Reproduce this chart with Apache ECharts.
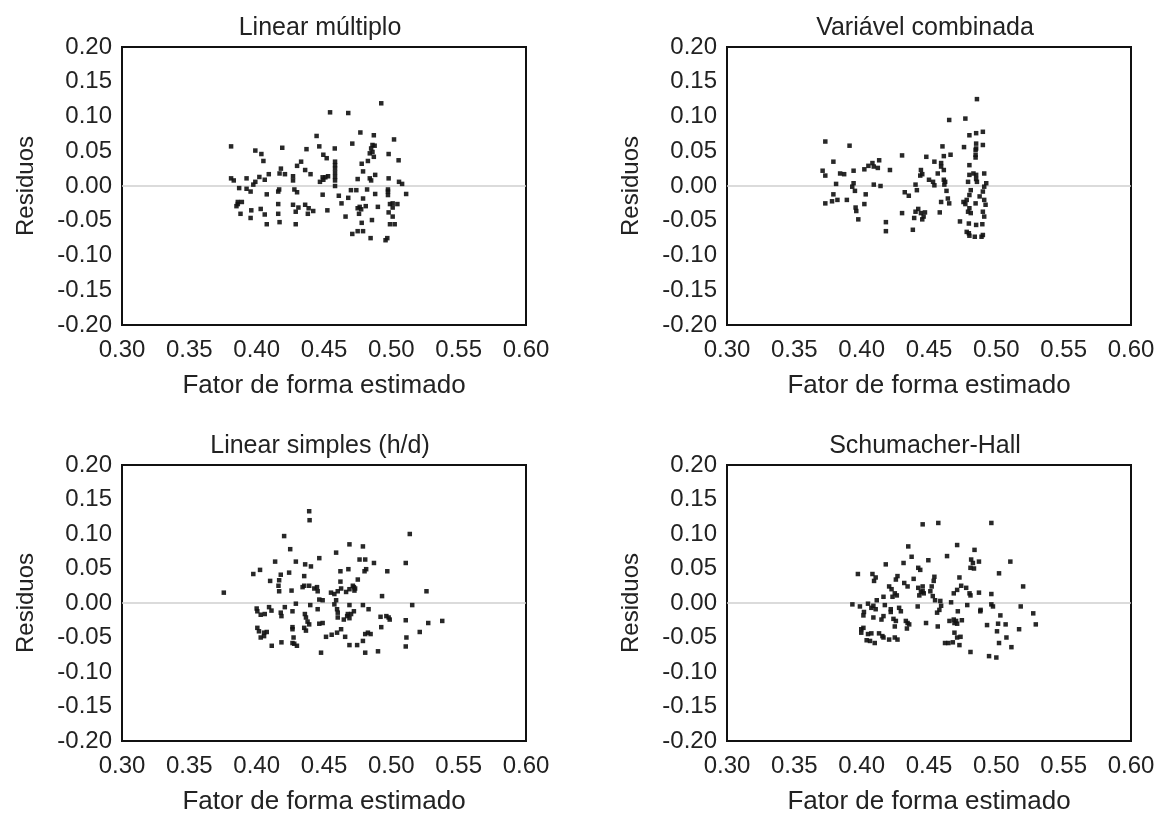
<!DOCTYPE html>
<html>
<head>
<meta charset="utf-8">
<script src="https://cdn.jsdelivr.net/npm/echarts@6/dist/echarts.min.js"></script>
<style>
  html, body { margin: 0; padding: 0; background: #fff; }
  #chart { width: 1165px; height: 816px; }
</style>
</head>
<body>
<div id="chart"></div>
<script>
// Residuals vs. estimated form factor for four models
const panelTitles = ['Linear múltiplo', 'Variável combinada', 'Linear simples (h/d)', 'Schumacher-Hall'];
const xName = 'Fator de forma estimado';
const yName = 'Residuos';
const xTicks = { min: 0.30, max: 0.60, step: 0.05 };
const yTicks = { min: -0.20, max: 0.20, step: 0.05 };

const linearMultiplo = [
  [0.381,0.057],[0.4545,0.106],[0.468,0.105],[0.477,0.077],[0.471,0.061],[0.4445,0.072],[0.399,0.051],
  [0.4035,0.046],[0.405,0.036],[0.419,0.055],[0.437,0.053],[0.4465,0.057],[0.4495,0.045],[0.452,0.040],
  [0.458,0.054],[0.4582,0.035],[0.4582,0.030],[0.4582,0.025],[0.4582,0.019],[0.4582,0.013],[0.4582,0.008],
  [0.4582,0.000],[0.430,0.029],[0.433,0.035],[0.436,0.023],[0.440,0.017],[0.418,0.025],[0.417,0.018],
  [0.421,0.017],[0.427,0.014],[0.427,0.008],[0.409,0.017],[0.406,0.009],[0.402,0.013],[0.399,0.006],
  [0.3975,0.002],[0.3925,0.011],[0.381,0.011],[0.383,0.008],[0.387,-0.003],[0.3925,-0.004],[0.3955,-0.008],
  [0.4167,-0.005],[0.416,-0.008],[0.428,-0.005],[0.430,-0.009],[0.4075,-0.012],[0.449,0.0125],[0.451,0.0125],
  [0.4495,0.009],[0.453,0.014],[0.447,0.006],[0.449,-0.0125],[0.386,-0.023],[0.389,-0.023],[0.385,-0.029],
  [0.386,-0.026],[0.388,-0.040],[0.396,-0.035],[0.3955,-0.046],[0.403,-0.033],[0.406,-0.041],[0.4075,-0.055],
  [0.416,-0.026],[0.416,-0.040],[0.417,-0.052],[0.427,-0.027],[0.429,-0.037],[0.431,-0.031],[0.429,-0.055],
  [0.436,-0.027],[0.4386,-0.032],[0.438,-0.040],[0.442,-0.036],[0.4525,-0.035],[0.461,-0.014],[0.463,-0.025],
  [0.468,-0.017],[0.470,-0.006],[0.474,-0.006],[0.466,-0.044],[0.471,-0.069],[0.475,-0.065],[0.479,-0.065],
  [0.478,0.032],[0.479,0.021],[0.475,0.010],[0.479,-0.018],[0.475,-0.032],[0.4765,-0.030],[0.4776,-0.0335],
  [0.476,-0.040],[0.478,-0.053],[0.4925,0.119],[0.487,0.073],[0.502,0.067],[0.486,0.059],[0.4876,0.058],
  [0.485,0.054],[0.486,0.049],[0.484,0.047],[0.487,0.042],[0.4826,0.036],[0.498,0.046],[0.5054,0.037],
  [0.488,0.016],[0.484,0.011],[0.485,0.008],[0.498,0.011],[0.5057,0.006],[0.508,0.003],[0.482,-0.005],
  [0.4975,-0.005],[0.4975,-0.008],[0.488,-0.0115],[0.4975,-0.013],[0.511,-0.0115],[0.481,-0.029],[0.490,-0.030],
  [0.499,-0.026],[0.501,-0.025],[0.5045,-0.026],[0.501,-0.031],[0.498,-0.038],[0.501,-0.044],[0.4856,-0.049],
  [0.499,-0.055],[0.5025,-0.055],[0.4846,-0.075],[0.4957,-0.078],[0.497,-0.075]
];

const variavelCombinada = [
  [0.373,0.064],[0.391,0.058],[0.379,0.035],[0.371,0.022],[0.373,0.015],[0.384,0.018],[0.387,0.017],
  [0.394,0.022],[0.402,0.024],[0.405,0.029],[0.408,0.033],[0.409,0.028],[0.413,0.037],[0.412,0.026],
  [0.421,0.023],[0.430,0.044],[0.448,0.042],[0.454,0.035],[0.444,0.023],[0.445,0.017],[0.4435,0.015],
  [0.450,0.009],[0.453,0.006],[0.454,0.001],[0.381,0.003],[0.394,0.004],[0.393,-0.001],[0.409,0.002],
  [0.414,0.000],[0.440,0.002],[0.441,-0.006],[0.379,-0.012],[0.373,-0.025],[0.378,-0.022],[0.382,-0.020],
  [0.389,-0.020],[0.395,-0.007],[0.403,-0.012],[0.402,-0.026],[0.3955,-0.031],[0.396,-0.036],[0.3975,-0.048],
  [0.418,-0.052],[0.418,-0.065],[0.432,-0.009],[0.435,-0.014],[0.430,-0.039],[0.442,-0.033],[0.440,-0.037],
  [0.439,-0.046],[0.444,-0.039],[0.446,-0.044],[0.447,-0.038],[0.445,-0.048],[0.438,-0.063],
  [0.4856,0.125],[0.465,0.095],[0.477,0.097],[0.480,0.073],[0.485,0.076],[0.490,0.078],[0.460,0.057],
  [0.461,0.043],[0.466,0.045],[0.476,0.056],[0.485,0.061],[0.485,0.054],[0.4846,0.052],[0.4846,0.045],
  [0.4846,0.041],[0.490,0.059],[0.480,0.030],[0.459,0.033],[0.459,0.028],[0.461,0.023],[0.4565,0.018],
  [0.461,0.009],[0.462,0.006],[0.4614,0.002],[0.483,0.018],[0.485,0.016],[0.485,0.010],[0.4856,0.006],
  [0.480,0.016],[0.479,0.006],[0.491,0.018],[0.4925,0.004],[0.491,-0.001],[0.490,-0.008],[0.4876,-0.015],
  [0.481,-0.006],[0.480,-0.013],[0.478,-0.020],[0.477,-0.026],[0.463,-0.007],[0.464,-0.018],[0.465,-0.025],
  [0.459,-0.023],[0.458,-0.038],[0.4756,-0.023],[0.4846,-0.025],[0.491,-0.020],[0.492,-0.027],[0.480,-0.032],
  [0.479,-0.037],[0.481,-0.039],[0.490,-0.037],[0.491,-0.044],[0.473,-0.051],[0.4796,-0.054],[0.485,-0.056],
  [0.4896,-0.055],[0.478,-0.066],[0.4796,-0.068],[0.484,-0.073],[0.489,-0.073],[0.490,-0.0705],[0.480,-0.0715]
];

const linearSimples = [
  [0.3756,0.015],[0.439,0.133],[0.4393,0.120],[0.4204,0.097],[0.4249,0.078],[0.4137,0.060],[0.4291,0.060],
  [0.436,0.056],[0.4403,0.053],[0.4465,0.065],[0.459,0.073],[0.4689,0.085],[0.4789,0.082],[0.4764,0.063],
  [0.4806,0.063],[0.4871,0.058],[0.3975,0.042],[0.4025,0.048],[0.410,0.032],[0.4179,0.041],[0.4167,0.033],
  [0.4241,0.044],[0.4162,0.025],[0.4167,0.017],[0.4259,0.018],[0.4353,0.039],[0.4353,0.025],[0.4341,0.023],
  [0.439,0.025],[0.4428,0.021],[0.4448,0.023],[0.4453,0.017],[0.4622,0.046],[0.4681,0.049],[0.4813,0.049],
  [0.4801,0.046],[0.4751,0.034],[0.4622,0.031],[0.4722,0.023],[0.4731,0.021],[0.4726,0.018],[0.4714,0.025],
  [0.4689,0.020],[0.4664,0.016],[0.4627,0.021],[0.4602,0.017],[0.4577,0.013],[0.4552,0.015],[0.4465,0.005],
  [0.449,0.004],[0.4453,-0.009],[0.4398,-0.003],[0.4291,-0.001],[0.4209,-0.006],[0.459,0.004],[0.4577,-0.002],
  [0.4597,-0.009],[0.4602,-0.014],[0.4689,-0.003],[0.4722,-0.012],[0.4677,-0.016],[0.4789,-0.003],[0.4831,-0.009],
  [0.400,-0.008],[0.4005,-0.012],[0.403,-0.017],[0.406,-0.016],[0.4092,-0.006],[0.411,-0.011],[0.4179,-0.014],
  [0.4184,-0.019],[0.4266,-0.012],[0.4358,-0.016],[0.4366,-0.021],[0.4378,-0.027],[0.439,-0.031],[0.4353,-0.036],
  [0.4366,-0.040],[0.4465,-0.030],[0.449,-0.029],[0.4602,-0.021],[0.4647,-0.024],[0.4672,-0.019],[0.4689,-0.022],
  [0.4701,-0.016],[0.4005,-0.036],[0.4017,-0.041],[0.4055,-0.043],[0.4075,-0.042],[0.403,-0.050],[0.4055,-0.048],
  [0.4112,-0.062],[0.4184,-0.057],[0.4266,-0.035],[0.4266,-0.038],[0.4274,-0.050],[0.4279,-0.059],[0.4299,-0.062],
  [0.4266,-0.058],[0.4478,-0.072],[0.4515,-0.049],[0.4557,-0.046],[0.4597,-0.043],[0.4627,-0.038],[0.4657,-0.049],
  [0.4689,-0.061],[0.4746,-0.061],[0.4789,-0.055],[0.4806,-0.045],[0.4826,-0.043],[0.4846,-0.045],[0.4806,-0.072],
  [0.5137,0.100],[0.5107,0.058],[0.497,0.046],[0.5261,0.017],[0.4931,0.010],[0.5155,-0.003],[0.492,-0.020],
  [0.4963,-0.019],[0.498,-0.021],[0.4988,-0.024],[0.5107,-0.025],[0.4925,-0.035],[0.5274,-0.029],[0.5378,-0.026],
  [0.5211,-0.042],[0.5112,-0.050],[0.5107,-0.063],[0.4901,-0.070]
];

const schumacherHall = [
  [0.4453,0.114],[0.4569,0.116],[0.4346,0.082],[0.4371,0.067],[0.4495,0.062],[0.4634,0.068],[0.4709,0.084],
  [0.4838,0.077],[0.4813,0.063],[0.4826,0.058],[0.4808,0.051],[0.4834,0.050],[0.4179,0.056],[0.4311,0.058],
  [0.442,0.051],[0.4435,0.048],[0.3972,0.042],[0.408,0.042],[0.4092,0.032],[0.4104,0.037],[0.4254,0.034],
  [0.4266,0.039],[0.4386,0.035],[0.4316,0.029],[0.4341,0.024],[0.4204,0.024],[0.4222,0.020],[0.4246,0.014],
  [0.4229,0.009],[0.4261,0.011],[0.4162,0.009],[0.4112,0.004],[0.442,0.022],[0.4453,0.024],[0.444,0.016],
  [0.4428,0.011],[0.4461,0.014],[0.4453,0.017],[0.454,0.038],[0.4535,0.032],[0.452,0.024],[0.451,0.017],
  [0.4528,0.010],[0.4545,0.004],[0.4584,0.003],[0.459,-0.004],[0.4726,0.037],[0.4739,0.025],[0.4776,0.022],
  [0.4709,0.019],[0.4801,0.014],[0.4808,0.011],[0.4684,0.014],[0.3931,-0.002],[0.3987,-0.005],[0.4047,-0.001],
  [0.4087,-0.004],[0.4072,-0.007],[0.4172,-0.003],[0.4216,-0.009],[0.4216,-0.013],[0.4278,-0.007],[0.4291,-0.012],
  [0.4416,-0.005],[0.4577,-0.010],[0.456,-0.014],[0.4664,0.001],[0.4714,-0.012],[0.4784,-0.003],[0.4883,-0.010],
  [0.4017,-0.013],[0.4013,-0.018],[0.4087,-0.021],[0.4147,-0.024],[0.4162,-0.019],[0.4104,-0.009],[0.4236,-0.023],
  [0.4254,-0.026],[0.4246,-0.034],[0.4328,-0.026],[0.4341,-0.029],[0.4353,-0.031],[0.4336,-0.037],[0.4478,-0.029],
  [0.4565,-0.034],[0.4652,-0.026],[0.4684,-0.024],[0.4689,-0.029],[0.4701,-0.026],[0.4709,-0.030],[0.4744,-0.025],
  [0.3997,-0.038],[0.4013,-0.036],[0.3997,-0.043],[0.4047,-0.045],[0.4072,-0.044],[0.4129,-0.044],[0.4154,-0.048],
  [0.4162,-0.050],[0.4204,-0.053],[0.4246,-0.050],[0.4266,-0.053],[0.4037,-0.054],[0.4062,-0.055],[0.4097,-0.058],
  [0.4689,-0.043],[0.4709,-0.050],[0.4734,-0.049],[0.4619,-0.058],[0.4644,-0.058],[0.4677,-0.057],[0.4726,-0.061],
  [0.4808,-0.071],[0.4963,0.116],[0.5104,0.060],[0.4871,0.060],[0.502,0.043],[0.5199,0.024],[0.4871,0.015],
  [0.4963,0.013],[0.4963,-0.002],[0.4975,-0.005],[0.5181,-0.005],[0.4881,-0.012],[0.503,-0.018],[0.5274,-0.015],
  [0.4931,-0.032],[0.5013,-0.030],[0.5069,-0.031],[0.5005,-0.041],[0.5169,-0.038],[0.5293,-0.031],[0.5075,-0.050],
  [0.502,-0.058],[0.5112,-0.064],[0.4946,-0.077],[0.500,-0.079]
];

const panelData = [linearMultiplo, variavelCombinada, linearSimples, schumacherHall];

// Layout of the 2x2 panels (pixels)
const FONT = '"Liberation Sans", Arial, sans-serif';
const TEXT = '#222';
const grids = [
  { left: 122, top: 47,  width: 404, height: 278 },
  { left: 727, top: 47,  width: 404, height: 278 },
  { left: 122, top: 465, width: 404, height: 276 },
  { left: 727, top: 465, width: 404, height: 276 }
];

const fmt = v => (Math.abs(v) < 1e-9 ? 0 : v).toFixed(2);

const option = {
  backgroundColor: '#fff',
  animation: false,
  textStyle: { fontFamily: FONT },
  title: grids.map((g, i) => ({
    text: panelTitles[i],
    left: g.left + g.width / 2 - 9,
    top: g.top - 36,
    textAlign: 'center',
    textStyle: { fontFamily: FONT, fontSize: 25, fontWeight: 'normal', color: TEXT }
  })),
  grid: grids.map(g => ({
    left: g.left, top: g.top, width: g.width, height: g.height,
    show: true, borderColor: '#111', borderWidth: 2, backgroundColor: 'transparent'
  })),
  xAxis: grids.map((g, i) => ({
    type: 'value', gridIndex: i,
    min: xTicks.min, max: xTicks.max, interval: xTicks.step,
    name: xName, nameLocation: 'middle', nameGap: 48,
    nameTextStyle: { fontFamily: FONT, fontSize: 26, color: TEXT },
    axisLine: { show: false }, axisTick: { show: false }, splitLine: { show: false },
    axisLabel: { fontFamily: FONT, fontSize: 24, color: TEXT, margin: 13, formatter: fmt, showMinLabel: true, showMaxLabel: true }
  })),
  yAxis: grids.map((g, i) => ({
    type: 'value', gridIndex: i,
    min: yTicks.min, max: yTicks.max, interval: yTicks.step,
    name: yName, nameLocation: 'middle', nameGap: 84,
    nameTextStyle: { fontFamily: FONT, fontSize: 24, color: TEXT },
    axisLine: { show: false }, axisTick: { show: false }, splitLine: { show: false },
    axisLabel: { fontFamily: FONT, fontSize: 24, color: TEXT, margin: 10, formatter: fmt, showMinLabel: true, showMaxLabel: true }
  })),
  series: panelData.map((d, i) => ({
    type: 'scatter', xAxisIndex: i, yAxisIndex: i,
    data: d,
    symbol: 'rect', symbolSize: 4.5,
    itemStyle: { color: '#111', opacity: 0.9 },
    silent: true,
    markLine: {
      silent: true, symbol: 'none', label: { show: false },
      lineStyle: { color: '#cfcfcf', width: 1.5, type: 'solid' },
      data: [{ yAxis: 0 }],
      z: 1
    }
  }))
};

const chart = echarts.init(document.getElementById('chart'), null, { renderer: 'canvas' });
chart.setOption(option);
</script>
</body>
</html>
